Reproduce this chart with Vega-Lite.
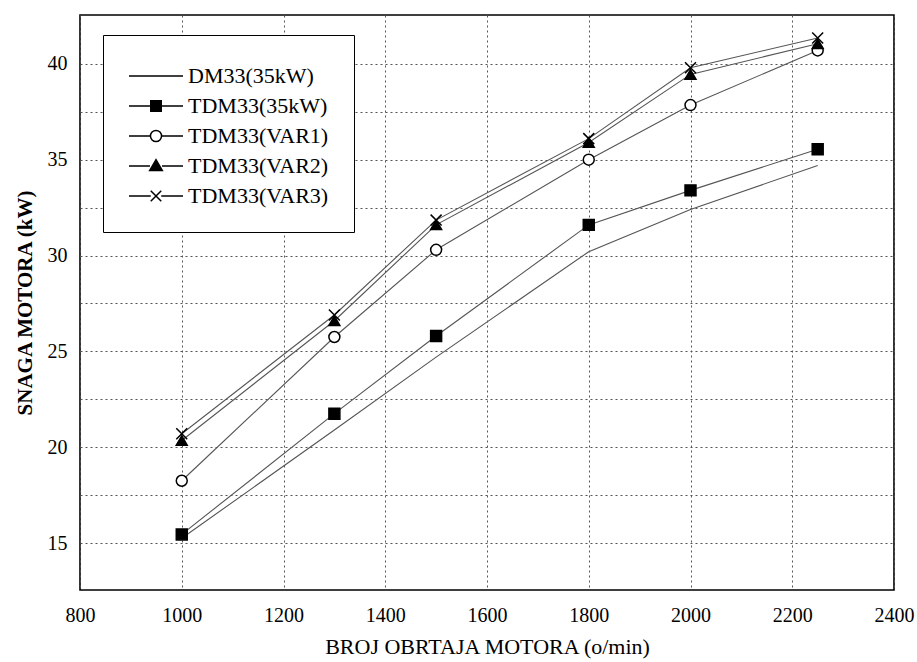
{
  "$schema": "https://vega.github.io/schema/vega-lite/v6.json",
  "autosize": "none",
  "padding": {"left": 80, "top": 15, "right": 23, "bottom": 72},
  "width": 814,
  "height": 575,
  "background": "white",
  "config": {
    "font": "Liberation Serif",
    "view": {"stroke": "black", "strokeWidth": 1.6},
    "axis": {
      "labelFont": "Liberation Serif",
      "titleFont": "Liberation Serif",
      "labelColor": "black",
      "titleColor": "black",
      "labelFontSize": 20,
      "domain": false,
      "ticks": false,
      "grid": true,
      "gridColor": "#555",
      "gridDash": [2, 3],
      "gridWidth": 1
    }
  },
  "data": {
    "values": [
      {"rpm": 1000, "kW": 15.25, "series": "DM33(35kW)"},
      {"rpm": 1300, "kW": 20.9, "series": "DM33(35kW)"},
      {"rpm": 1500, "kW": 24.7, "series": "DM33(35kW)"},
      {"rpm": 1800, "kW": 30.2, "series": "DM33(35kW)"},
      {"rpm": 2000, "kW": 32.4, "series": "DM33(35kW)"},
      {"rpm": 2250, "kW": 34.7, "series": "DM33(35kW)"},
      {"rpm": 1000, "kW": 15.45, "series": "TDM33(35kW)"},
      {"rpm": 1300, "kW": 21.75, "series": "TDM33(35kW)"},
      {"rpm": 1500, "kW": 25.8, "series": "TDM33(35kW)"},
      {"rpm": 1800, "kW": 31.6, "series": "TDM33(35kW)"},
      {"rpm": 2000, "kW": 33.4, "series": "TDM33(35kW)"},
      {"rpm": 2250, "kW": 35.55, "series": "TDM33(35kW)"},
      {"rpm": 1000, "kW": 18.25, "series": "TDM33(VAR1)"},
      {"rpm": 1300, "kW": 25.75, "series": "TDM33(VAR1)"},
      {"rpm": 1500, "kW": 30.3, "series": "TDM33(VAR1)"},
      {"rpm": 1800, "kW": 35.0, "series": "TDM33(VAR1)"},
      {"rpm": 2000, "kW": 37.85, "series": "TDM33(VAR1)"},
      {"rpm": 2250, "kW": 40.7, "series": "TDM33(VAR1)"},
      {"rpm": 1000, "kW": 20.35, "series": "TDM33(VAR2)"},
      {"rpm": 1300, "kW": 26.6, "series": "TDM33(VAR2)"},
      {"rpm": 1500, "kW": 31.6, "series": "TDM33(VAR2)"},
      {"rpm": 1800, "kW": 35.9, "series": "TDM33(VAR2)"},
      {"rpm": 2000, "kW": 39.45, "series": "TDM33(VAR2)"},
      {"rpm": 2250, "kW": 41.05, "series": "TDM33(VAR2)"},
      {"rpm": 1000, "kW": 20.7, "series": "TDM33(VAR3)"},
      {"rpm": 1300, "kW": 26.9, "series": "TDM33(VAR3)"},
      {"rpm": 1500, "kW": 31.85, "series": "TDM33(VAR3)"},
      {"rpm": 1800, "kW": 36.1, "series": "TDM33(VAR3)"},
      {"rpm": 2000, "kW": 39.8, "series": "TDM33(VAR3)"},
      {"rpm": 2250, "kW": 41.35, "series": "TDM33(VAR3)"}
    ]
  },
  "encoding": {
    "x": {
      "field": "rpm",
      "type": "quantitative",
      "scale": {"domain": [800, 2400], "nice": false, "zero": false},
      "axis": {
        "values": [800, 1000, 1200, 1400, 1600, 1800, 2000, 2200, 2400],
        "title": "BROJ OBRTAJA MOTORA (o/min)",
        "titleFontSize": 22,
        "titleFontWeight": "normal",
        "labelPadding": 15,
        "titlePadding": 11,
        "format": "d",
        "labelFlush": false
      }
    },
    "y": {
      "field": "kW",
      "type": "quantitative",
      "scale": {"domain": [12.55, 42.55], "nice": false, "zero": false},
      "axis": {
        "values": [15, 17.5, 20, 22.5, 25, 27.5, 30, 32.5, 35, 37.5, 40],
        "labelExpr": "datum.value % 5 == 0 ? datum.label : ''",
        "title": "SNAGA MOTORA (kW)",
        "titleFontSize": 21,
        "titleFontWeight": "bold",
        "labelPadding": 13,
        "titlePadding": 12
      }
    }
  },
  "layer": [
    {
      "mark": {"type": "line", "color": "#555", "strokeWidth": 1.1},
      "encoding": {"detail": {"field": "series"}}
    },
    {
      "transform": [{"filter": "datum.series != 'DM33(35kW)'"}],
      "mark": {"type": "point", "filled": true, "stroke": "black", "strokeWidth": 1.5, "size": 120, "opacity": 1},
      "encoding": {
        "shape": {
          "field": "series",
          "scale": {
            "domain": ["TDM33(35kW)", "TDM33(VAR1)", "TDM33(VAR2)", "TDM33(VAR3)"],
            "range": ["square", "circle", "triangle-up", "M-1,-1L1,1M-1,1L1,-1"]
          },
          "legend": null
        },
        "fill": {
          "field": "series",
          "scale": {
            "domain": ["TDM33(35kW)", "TDM33(VAR1)", "TDM33(VAR2)", "TDM33(VAR3)"],
            "range": ["black", "white", "black", "transparent"]
          },
          "legend": null
        }
      }
    },
    {
      "transform": [{"filter": "datum.kW < 0"}],
      "mark": {"type": "point", "filled": true, "stroke": "black", "strokeWidth": 1.3},
      "encoding": {
        "shape": {
          "field": "series",
          "scale": {
            "domain": ["DM33(35kW)", "TDM33(35kW)", "TDM33(VAR1)", "TDM33(VAR2)", "TDM33(VAR3)"],
            "range": [
              "M-1.8,0H1.8",
              "M-1.8,0H-0.35M0.35,0H1.8M-0.35,-0.35H0.35V0.35H-0.35Z",
              "M-1.8,0H-0.37M0.37,0H1.8M0.37,0A0.37,0.37 0 1 1 -0.37,0A0.37,0.37 0 1 1 0.37,0Z",
              "M-1.8,0H-0.4M0.4,0H1.8M0,-0.42L0.42,0.3H-0.42Z",
              "M-1.8,0H-0.35M0.35,0H1.8M-0.35,-0.35L0.35,0.35M-0.35,0.35L0.35,-0.35"
            ]
          },
          "legend": {
            "title": null,
            "orient": "none",
            "legendX": 23,
            "legendY": 20,
            "symbolSize": 900,
            "symbolOffset": 12,
            "symbolOpacity": 1,
            "labelFont": "Liberation Serif",
            "labelFontSize": 22,
            "labelColor": "black",
            "labelOffset": 16,
            "labelLimit": 300,
            "rowPadding": 3,
            "padding": 25,
            "strokeColor": "black",
            "fillColor": "white",
            "encode": {
              "symbols": {"update": {"stroke": {"value": "black"}, "strokeWidth": {"value": 1.3}}},
              "legend": {"update": {"strokeWidth": {"value": 2}}}
            }
          }
        },
        "fill": {
          "field": "series",
          "scale": {
            "domain": ["DM33(35kW)", "TDM33(35kW)", "TDM33(VAR1)", "TDM33(VAR2)", "TDM33(VAR3)"],
            "range": ["transparent", "black", "white", "black", "transparent"]
          },
          "legend": {
            "title": null,
            "orient": "none",
            "legendX": 23,
            "legendY": 20,
            "symbolSize": 900,
            "symbolOffset": 12,
            "symbolOpacity": 1,
            "labelFont": "Liberation Serif",
            "labelFontSize": 22,
            "labelColor": "black",
            "labelOffset": 16,
            "labelLimit": 300,
            "rowPadding": 3,
            "padding": 25,
            "strokeColor": "black",
            "fillColor": "white",
            "encode": {
              "symbols": {"update": {"stroke": {"value": "black"}, "strokeWidth": {"value": 1.3}}},
              "legend": {"update": {"strokeWidth": {"value": 2}}}
            }
          }
        }
      }
    }
  ],
  "resolve": {
    "scale": {"shape": "independent", "fill": "independent"},
    "legend": {"shape": "independent", "fill": "independent"}
  }
}
